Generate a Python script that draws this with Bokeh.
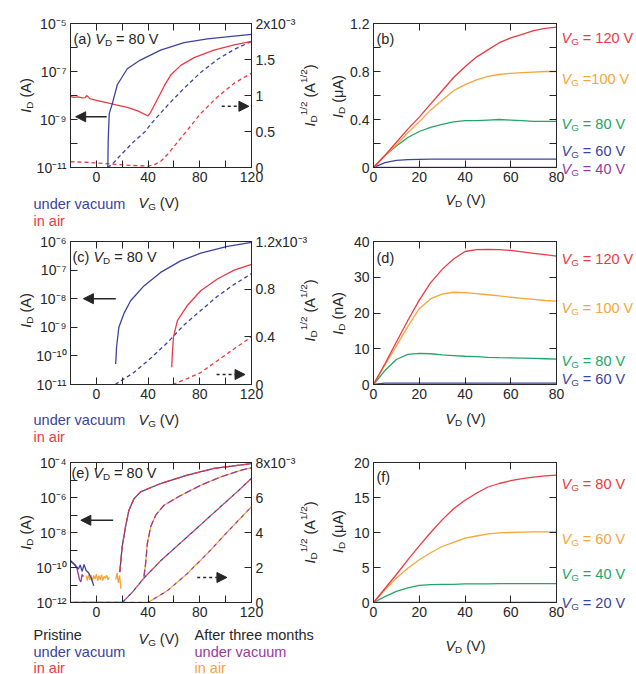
import numpy as np
from bokeh.plotting import figure
from bokeh.models import (Range1d, LinearAxis, LinearScale, FixedTicker, Label, Arrow, NormalHead, GridBox)
from bokeh.layouts import column, row
from bokeh.embed import file_html
from bokeh.resources import INLINE

NAN = float("nan")

BLUE = "#3b43a0"
RED = "#eb3a44"
ORANGE = "#f5a53d"
GREEN = "#23a566"
PURPLE = "#9a3a9e"
INK = "#262626"
FONT = "Liberation Sans"

# ---------------- ticks ----------------
VG_MAJOR = [0, 40, 80, 120]
VG_LABELS = ["0", "40", "80", "120"]
VG_MINOR = [20, 60, 100]
VD_MAJOR = [0, 20, 40, 60, 80]
VD_LABELS = ["0", "20", "40", "60", "80"]

A_LOG_MAJOR = [1e-11, 1e-9, 1e-7, 1e-5]
A_LOG_LABELS = ["10⁻¹¹", "10⁻⁹", "10⁻⁷", "10⁻⁵"]
A_LOG_MINOR = [1e-10, 1e-8, 1e-6]
A_SQ_MAJOR = [0.0, 0.0005, 0.001, 0.0015, 0.002]
A_SQ_LABELS = ["0", "0.5", "1", "1.5", "2x10⁻³"]

C_LOG_MAJOR = [1e-11, 1e-10, 1e-9, 1e-8, 1e-7, 1e-6]
C_LOG_LABELS = ["10⁻¹¹", "10⁻¹⁰", "10⁻⁹", "10⁻⁸", "10⁻⁷", "10⁻⁶"]
C_LOG_MINOR = []
C_SQ_MAJOR = [0.0, 0.0004, 0.0008, 0.0012]
C_SQ_LABELS = ["0", "0.4", "0.8", "1.2x10⁻³"]

E_LOG_MAJOR = [1e-12, 1e-10, 1e-8, 1e-6, 1e-4]
E_LOG_LABELS = ["10⁻¹²", "10⁻¹⁰", "10⁻⁸", "10⁻⁶", "10⁻⁴"]
E_LOG_MINOR = [1e-11, 1e-9, 1e-7, 1e-5]
E_SQ_MAJOR = [0.0, 0.002, 0.004, 0.006, 0.008]
E_SQ_LABELS = ["0", "2", "4", "6", "8x10⁻³"]

B_Y_MAJOR = [0, 0.4, 0.8, 1.2]
B_Y_LABELS = ["0", "0.4", "0.8", "1.2"]
B_Y_MINOR = [0.2, 0.6, 1.0]
D_Y_MAJOR = [0, 10, 20, 30, 40]
D_Y_LABELS = ["0", "10", "20", "30", "40"]
F_Y_MAJOR = [0, 5, 10, 15, 20]
F_Y_LABELS = ["0", "5", "10", "15", "20"]

# ---------------- panel (a) transfer ----------------
A_VG_VAC = [8.9, 9.1, 9.4, 10.0, 12.3, 16.2, 23.9, 34.0, 49.7, 67.8, 85.9, 106.6, 120.0]
A_ID_VAC = [1.0e-11, 1.0e-10, 3.0e-10, 1.8e-9, 4.5e-9, 2.8e-8, 1.3e-7, 3.0e-7, 7.8e-7, 1.6e-6, 2.3e-6, 3.0e-6, 3.5e-6]
A_VG_AIR = [-20, -17, -14, -11, -8.5, -7.5, -5, 0, 8, 16, 24, 32, 40.0, 42, 45, 49, 52.5, 57.5, 65.3, 75.6, 91.0, 106.6, 120]
A_ID_AIR = [9.0e-9, 8.3e-9, 8.7e-9, 7.9e-9, 8.2e-9, 1.0e-8, 7.4e-9, 6.2e-9, 5.0e-9, 4.0e-9, 3.2e-9, 2.3e-9, 1.4e-9,
            2.0e-9, 4.1e-9, 1.07e-8, 2.5e-8, 7.1e-8, 1.8e-7, 3.8e-7, 7.8e-7, 1.3e-6, 1.8e-6]
A_VG_VAC_SQ = [8.5, 12, 18.7, 29, 37.8, 42, 54.9, 67.8, 80.7, 93.6, 106.6, 120]
A_SQ_VAC = [0.0, 0.04e-3, 0.17e-3, 0.36e-3, 0.5e-3, 0.6e-3, 0.86e-3, 1.1e-3, 1.32e-3, 1.5e-3, 1.64e-3, 1.75e-3]
A_VG_AIR_SQ = [-20, -5, 10, 25, 40, 45, 50, 55, 60, 70.4, 80.7, 93.6, 106.6, 120]
A_SQ_AIR = [0.08e-3, 0.07e-3, 0.05e-3, 0.03e-3, 0.02e-3, 0.04e-3, 0.09e-3, 0.18e-3, 0.29e-3, 0.52e-3, 0.75e-3,
            0.98e-3, 1.17e-3, 1.31e-3]

# ---------------- panel (c) transfer ----------------
C_VG_VAC = [14.9, 15.3, 15.6, 17.4, 21.3, 26.5, 36.8, 49.7, 65.2, 80.7, 101.4, 120]
C_ID_VAC = [5.2e-11, 1.0e-10, 2.0e-10, 1.0e-9, 3.0e-9, 8.5e-9, 2.8e-8, 8.3e-8, 2.1e-7, 3.9e-7, 6.8e-7, 9.3e-7]
C_VG_AIR = [58.3, 58.8, 59.6, 62.7, 70.4, 80.7, 93.6, 106.6, 120]
C_ID_AIR = [4.0e-11, 1.2e-10, 4.5e-10, 1.7e-9, 5.8e-9, 1.9e-8, 4.9e-8, 1.0e-7, 1.6e-7]
C_VG_VAC_SQ = [14.5, 29, 42, 54.9, 60, 67.8, 80.7, 93.6, 106.6, 120]
C_SQ_VAC = [0.0, 0.10e-3, 0.22e-3, 0.35e-3, 0.41e-3, 0.5e-3, 0.62e-3, 0.74e-3, 0.84e-3, 0.93e-3]
C_VG_AIR_SQ = [59, 70.4, 80.7, 93.6, 106.6, 120]
C_SQ_AIR = [0.0, 0.05e-3, 0.10e-3, 0.20e-3, 0.30e-3, 0.40e-3]

# ---------------- panel (e) transfer ----------------
E_VG_PRI = [18.1, 19.9, 22.5, 25.1, 29.0, 34.2, 49.7, 70.4, 91.0, 120.0]
E_ID_PRI = [5.4e-11, 1.4e-9, 2.0e-8, 1.8e-7, 8.3e-7, 2.1e-6, 6.3e-6, 1.9e-5, 4.6e-5, 8.7e-5]
E_VG_PRI_VAC_OFF = [-20, -18, -16, -14, -12.5, -11, -9.5, -8, -6, -4, -2]
E_ID_PRI_VAC_OFF = [2.5e-10, 1.8e-10, 1.3e-10, 8.0e-11, 1.4e-10, 6.0e-11, 1.5e-10, 7.0e-11, 5.0e-11, 2.5e-11, 9.0e-12]
E_VG_3M = [36.8, 38.1, 39.4, 42.0, 45.9, 52.3, 65.2, 80.7, 96.2, 111.7, 120.0]
E_ID_3M = [3.0e-11, 1.7e-10, 2.3e-9, 2.1e-8, 9.8e-8, 3.6e-7, 1.3e-6, 5.0e-6, 1.5e-5, 3.6e-5, 5.1e-5]
E_VG_3M_VAC_OFF = [-20, -17, -15, -13, -12, -11, -10]
E_ID_3M_VAC_OFF = [2.2e-10, 1.5e-10, 9.0e-11, 2.0e-11, 1.5e-11, 4.0e-11, 3.0e-11]
E_VG_3M_AIR_OFF = [-8, -7, -6, -5, -4, -3, -2, -1, 0, 1, 2, 3, 4, 5, 6, 7, 8, 9, 10,
                   NAN, 15, 16, 17, 18, 19]
E_ID_3M_AIR_OFF = [3.5e-11, 1.8e-11, 4.0e-11, 2.0e-11, 3.8e-11, 1.6e-11, 3.5e-11, 2.2e-11, 4.2e-11, 1.7e-11,
                   3.4e-11, 2.0e-11, 3.9e-11, 1.8e-11, 3.1e-11, 2.4e-11, 3.6e-11, 2.0e-11, 2.8e-11,
                   NAN, 2.0e-11, 5.0e-11, 1.3e-11, 3.5e-11, 6.0e-12]
E_VG_PRI_SQ = [-20, 20, 28, 36.8, 50, 65, 80, 95, 110, 120]
E_SQ_PRI = [0.0, 0.0, 0.6e-3, 1.4e-3, 2.4e-3, 3.4e-3, 4.4e-3, 5.4e-3, 6.4e-3, 7.1e-3]
E_VG_3M_SQ = [-20, 40, 55.4, 70.4, 85.9, 101.4, 120]
E_SQ_3M = [0.0, 0.0, 0.7e-3, 1.66e-3, 2.8e-3, 4.04e-3, 5.47e-3]

# ---------------- output curves ----------------
VD = [0, 5, 10, 15, 20, 25, 30, 35, 40, 45, 50, 55, 60, 65, 70, 75, 80]
B_ID_120 = [0, 0.10, 0.21, 0.32, 0.42, 0.53, 0.64, 0.75, 0.84, 0.92, 0.98, 1.04, 1.08, 1.11, 1.14, 1.16, 1.17]
B_ID_100 = [0, 0.10, 0.19, 0.29, 0.38, 0.48, 0.56, 0.64, 0.69, 0.73, 0.76, 0.775, 0.785, 0.79, 0.795, 0.80, 0.80]
B_ID_80 = [0, 0.10, 0.18, 0.25, 0.30, 0.335, 0.36, 0.38, 0.39, 0.39, 0.395, 0.40, 0.395, 0.39, 0.385, 0.385, 0.385]
B_ID_60 = [0, 0.04, 0.06, 0.065, 0.068, 0.07, 0.07, 0.07, 0.07, 0.07, 0.07, 0.07, 0.07, 0.07, 0.07, 0.07, 0.07]
B_ID_40 = [0.0] * 17
B_TAGS = [" = 120 V", " =100 V", " = 80 V", " = 60 V", " = 40 V"]

D_ID_120 = [0, 5.8, 11.9, 17.9, 23.6, 28.5, 32.2, 35.1, 37.2, 37.7, 37.8, 37.7, 37.5, 37.1, 36.7, 36.3, 35.9]
D_ID_100 = [0, 5.5, 10.8, 16.2, 21.2, 24.0, 25.3, 25.8, 25.7, 25.4, 25.1, 24.8, 24.4, 24.1, 23.8, 23.5, 23.3]
D_ID_80 = [0, 3.9, 7.0, 8.4, 8.7, 8.6, 8.3, 8.1, 7.9, 7.8, 7.6, 7.5, 7.45, 7.4, 7.3, 7.2, 7.1]
D_ID_60 = [0, 0.4, 0.4, 0.4, 0.4, 0.4, 0.4, 0.4, 0.4, 0.4, 0.4, 0.4, 0.4, 0.4, 0.4, 0.4, 0.4]
D_TAGS = [" = 120 V", " = 100 V", " = 80 V", " = 60 V"]

F_ID_80 = [0, 2.0, 4.0, 6.1, 8.1, 10.0, 11.8, 13.4, 14.6, 15.6, 16.5, 17.0, 17.4, 17.7, 17.9, 18.1, 18.2]
F_ID_60 = [0, 1.8, 3.5, 4.9, 6.1, 7.1, 8.0, 8.6, 9.2, 9.5, 9.8, 9.95, 10.0, 10.05, 10.1, 10.1, 10.1]
F_ID_40 = [0, 0.85, 1.6, 2.1, 2.45, 2.55, 2.6, 2.6, 2.65, 2.65, 2.65, 2.7, 2.7, 2.7, 2.7, 2.7, 2.7]
F_ID_20 = [0.0] * 17
F_TAGS = [" = 80 V", " = 60 V", " = 40 V", " = 20 V"]

# ---------------- helpers ----------------
W_PAGE, H_PAGE = 636, 674
CW = {' ': 0.278, '(': 0.333, ')': 0.333, '=': 0.584, '/': 0.278, '.': 0.278, '-': 0.333, 'μ': 0.576,
      'A': 0.667, 'D': 0.722, 'G': 0.778, 'I': 0.278, 'V': 0.667, 'P': 0.667,
      'a': 0.556, 'b': 0.556, 'c': 0.5, 'd': 0.556, 'e': 0.556, 'f': 0.278, 'h': 0.556, 'i': 0.222,
      'm': 0.833, 'n': 0.556, 'o': 0.556, 'r': 0.333, 's': 0.5, 't': 0.278, 'u': 0.556, 'v': 0.5, 'x': 0.5}


def tw(s, fs):
    return sum(CW.get(ch, 0.556) for ch in s) * fs


def arr(v):
    return np.array(v, dtype=float)


# overlay figure holding all texts outside the plot frames (page coordinates)
ov = figure(width=W_PAGE, height=H_PAGE, min_border=0, x_range=Range1d(0, W_PAGE), y_range=Range1d(0, H_PAGE),
            x_axis_location=None, y_axis_location=None, output_backend="svg", toolbar_location=None,
            tools="", title=None)
ov.grid.visible = False
ov.outline_line_color = None
ov.background_fill_color = None
ov.border_fill_color = None


def rich(px, py, parts, color=INK, size=14.5, angle=0.0, center=False):
    items = []
    pos = 0.0
    for txt, st in parts:
        fs = size * 0.68 if st in ("sub", "sup") else size
        lead = len(txt) - len(txt.lstrip(" "))
        core = txt.strip(" ")
        start = pos + tw(" " * lead, fs)
        pos = pos + tw(txt, fs)
        if st == "sub":
            shift = -0.28 * size
        elif st == "sup":
            shift = 0.40 * size
        else:
            shift = 0.0
        items.append((core, st, fs, start, shift))
    off = -pos / 2 if center else 0.0
    bx = px
    by = H_PAGE - py
    for txt, st, fs, start, shift in items:
        a = start + off
        if angle == 0.0:
            x, y = bx + a, by + shift
        else:
            x, y = bx - shift, by + a
        ov.add_layout(Label(x=x, y=y, x_units="screen", y_units="screen", text=txt,
                            text_font=FONT, text_font_size=f"{fs:.1f}px",
                            text_font_style="italic" if st == "i" else "normal",
                            text_color=color, text_align="left", text_baseline="alphabetic",
                            angle=angle))


def style_axis(ax, major, labels, minor):
    ax.ticker = FixedTicker(ticks=major, minor_ticks=minor)
    ax.major_tick_in = 7
    ax.major_tick_out = 0
    ax.minor_tick_in = 7
    ax.minor_tick_out = 0
    ax.minor_tick_line_color = INK
    ax.major_tick_line_color = INK
    ax.axis_line_color = INK
    if labels:
        ax.major_label_overrides = dict(zip(major, labels))
    ax.major_label_text_font = FONT
    ax.major_label_text_font_size = "14px"
    ax.major_label_text_color = INK
    ax.major_label_standoff = 4


def base_fig(geo, x_range, y_range, log=False):
    p = figure(width=geo["w"], height=geo["h"], min_border_left=geo["bl"], min_border_right=geo["br"],
               min_border_top=geo["bt"], min_border_bottom=geo["bb"], x_range=x_range, y_range=y_range,
               y_axis_type="log" if log else "linear", output_backend="svg", toolbar_location=None,
               tools="", title=None)
    p.grid.visible = False
    p.outline_line_color = INK
    return p


GEO = {
    "a": dict(w=318, h=226, bl=70, br=67, bt=23, bb=59),
    "b": dict(w=318, h=226, bl=55, br=80, bt=23, bb=59),
    "c": dict(w=318, h=218, bl=70, br=67, bt=15, bb=60),
    "d": dict(w=318, h=218, bl=55, br=80, bt=15, bb=60),
    "e": dict(w=318, h=230, bl=70, br=67, bt=18, bb=72),
    "f": dict(w=318, h=230, bl=55, br=80, bt=15, bb=70),
}

ID_A = [("I", "i"), ("D", "sub"), (" (A)", "n")]
SQRT_LABEL = [("I", "i"), ("D", "sub"), ("1/2", "sup"), (" (A", "n"), ("1/2", "sup"), (")", "n")]
VG_LABEL = [("V", "i"), ("G", "sub"), (" (V)", "n")]
VD_LABEL = [("V", "i"), ("D", "sub"), (" (V)", "n")]


def transfer_fig(geo, ylo, yhi, log_major, log_labels, log_minor, rmax, sq_major, sq_labels):
    p = base_fig(geo, Range1d(-20, 120), Range1d(ylo, yhi), log=True)
    p.extra_y_ranges = {"r": Range1d(0, rmax)}
    p.extra_y_scales = {"r": LinearScale()}
    style_axis(p.xaxis[0], VG_MAJOR, VG_LABELS, VG_MINOR)
    style_axis(p.yaxis[0], log_major, log_labels, log_minor)
    top = LinearAxis()
    style_axis(top, [], None, VG_MAJOR + VG_MINOR)
    p.add_layout(top, "above")
    right = LinearAxis(y_range_name="r")
    style_axis(right, sq_major, sq_labels, [])
    p.add_layout(right, "right")
    return p


def add_arrows(p, solid, dashed):
    (x0, x1, y), (dx0, dx1, dy) = solid, dashed
    p.add_layout(Arrow(end=NormalHead(size=10, fill_color=INK, line_color=INK, line_width=1),
                       x_start=x0, y_start=y, x_end=x1, y_end=y, line_color=INK, line_width=1.5))
    p.add_layout(Arrow(end=NormalHead(size=10, fill_color=INK, line_color=INK, line_width=1),
                       x_start=dx0, y_start=dy, x_end=dx1, y_end=dy, line_color=INK, line_width=1.5,
                       line_dash="3 3", y_range_name="r"))


LW = 1.3

# ---- (a)
pa = transfer_fig(GEO["a"], 1e-11, 1e-5, A_LOG_MAJOR, A_LOG_LABELS, A_LOG_MINOR, 2e-3, A_SQ_MAJOR, A_SQ_LABELS)
pa.line(arr(A_VG_AIR_SQ), arr(A_SQ_AIR), line_color=RED, line_width=LW, line_dash="4 3", y_range_name="r")
pa.line(arr(A_VG_VAC_SQ), arr(A_SQ_VAC), line_color=BLUE, line_width=LW, line_dash="4 3", y_range_name="r")
pa.line(arr(A_VG_AIR), arr(A_ID_AIR), line_color=RED, line_width=LW)
pa.line(arr(A_VG_VAC), arr(A_ID_VAC), line_color=BLUE, line_width=LW)
add_arrows(pa, (8, -16, 1.3e-9), (97, 118, 0.85e-3))

# ---- (c)
pc = transfer_fig(GEO["c"], 1e-11, 1e-6, C_LOG_MAJOR, C_LOG_LABELS, C_LOG_MINOR, 1.2e-3, C_SQ_MAJOR, C_SQ_LABELS)
pc.line(arr(C_VG_AIR_SQ), arr(C_SQ_AIR), line_color=RED, line_width=LW, line_dash="4 3", y_range_name="r")
pc.line(arr(C_VG_VAC_SQ), arr(C_SQ_VAC), line_color=BLUE, line_width=LW, line_dash="4 3", y_range_name="r")
pc.line(arr(C_VG_AIR), arr(C_ID_AIR), line_color=RED, line_width=LW)
pc.line(arr(C_VG_VAC), arr(C_ID_VAC), line_color=BLUE, line_width=LW)
add_arrows(pc, (15, -10, 1e-8), (93, 115, 0.084e-3))

# ---- (e)
pe = transfer_fig(GEO["e"], 1e-12, 1e-4, E_LOG_MAJOR, E_LOG_LABELS, E_LOG_MINOR, 8e-3, E_SQ_MAJOR, E_SQ_LABELS)
pe.line(arr(E_VG_3M_SQ), arr(E_SQ_3M), line_color=ORANGE, line_width=LW, line_dash="4 4", y_range_name="r")
pe.line(arr(E_VG_3M_SQ), arr(E_SQ_3M), line_color=PURPLE, line_width=LW, line_dash="4 4",
        line_dash_offset=4, y_range_name="r")
pe.line(arr(E_VG_PRI_SQ), arr(E_SQ_PRI), line_color=RED, line_width=LW, line_dash="4 4", y_range_name="r")
pe.line(arr(E_VG_PRI_SQ), arr(E_SQ_PRI), line_color=BLUE, line_width=LW, line_dash="4 4",
        line_dash_offset=4, y_range_name="r")
pe.line(arr(E_VG_3M_AIR_OFF), arr(E_ID_3M_AIR_OFF), line_color=ORANGE, line_width=LW)
pe.line(arr(E_VG_3M_VAC_OFF), arr(E_ID_3M_VAC_OFF), line_color=PURPLE, line_width=LW)
pe.line(arr(E_VG_PRI_VAC_OFF), arr(E_ID_PRI_VAC_OFF), line_color=BLUE, line_width=LW)
pe.line(arr(E_VG_3M), arr(E_ID_3M), line_color=ORANGE, line_width=LW)
pe.line(arr(E_VG_3M), arr(E_ID_3M), line_color=PURPLE, line_width=LW, line_dash="7 3")
pe.line(arr(E_VG_PRI), arr(E_ID_PRI), line_color=BLUE, line_width=LW)
pe.line(arr(E_VG_PRI), arr(E_ID_PRI), line_color=RED, line_width=LW, line_dash="7 3")
add_arrows(pe, (13, -12, 5e-8), (78, 101, 1.43e-3))


# ---- output panels
def output_fig(geo, ymax, y_major, y_labels, y_minor):
    p = base_fig(geo, Range1d(0, 80), Range1d(0, ymax))
    style_axis(p.xaxis[0], VD_MAJOR, VD_LABELS, [])
    style_axis(p.yaxis[0], y_major, y_labels, y_minor)
    top = LinearAxis()
    style_axis(top, [], None, VD_MAJOR)
    p.add_layout(top, "above")
    right = LinearAxis()
    style_axis(right, [], None, y_major + y_minor)
    p.add_layout(right, "right")
    return p


pb = output_fig(GEO["b"], 1.2, B_Y_MAJOR, B_Y_LABELS, B_Y_MINOR)
for ys, c in [(B_ID_40, PURPLE), (B_ID_60, BLUE), (B_ID_80, GREEN), (B_ID_100, ORANGE), (B_ID_120, RED)]:
    pb.line(arr(VD), arr(ys), line_color=c, line_width=LW)

pd_ = output_fig(GEO["d"], 40, D_Y_MAJOR, D_Y_LABELS, [])
for ys, c in [(D_ID_60, BLUE), (D_ID_80, GREEN), (D_ID_100, ORANGE), (D_ID_120, RED)]:
    pd_.line(arr(VD), arr(ys), line_color=c, line_width=LW)

pf = output_fig(GEO["f"], 20, F_Y_MAJOR, F_Y_LABELS, [])
for ys, c in [(F_ID_20, BLUE), (F_ID_40, GREEN), (F_ID_60, ORANGE), (F_ID_80, RED)]:
    pf.line(arr(VD), arr(ys), line_color=c, line_width=LW)

# ---------------- texts (page coordinates) ----------------
for letter, (x, y) in zip("ace", [(73, 38), (72, 256), (71, 472)]):
    rich(x, y, [(f"({letter}) ", "n"), ("V", "i"), ("D", "sub"), (" = 80 V", "n")])
for letter, (x, y) in zip("bdf", [(376, 38), (376, 257), (376, 476)]):
    rich(x, y, [(f"({letter})", "n")])

for cy in (95, 310, 532):
    rich(25, cy, ID_A, angle=np.pi / 2, center=True)
    rich(309, cy, SQRT_LABEL, angle=np.pi / 2, center=True)
for cy, unit in ((96, "μA"), (313, "nA"), (531, "μA")):
    rich(337, cy, [("I", "i"), ("D", "sub"), (f" ({unit})", "n")], angle=np.pi / 2, center=True)

for y in (202, 419, 638):
    rich(138, y, VG_LABEL)
for y in (199, 418, 645):
    rich(465, y, VD_LABEL, center=True)

rich(33, 203, [("under vacuum", "n")], color=BLUE)
rich(33, 220, [("in air", "n")], color=RED)
rich(33, 419, [("under vacuum", "n")], color=BLUE)
rich(33, 436, [("in air", "n")], color=RED)
rich(33, 634, [("Pristine", "n")])
rich(33, 651, [("under vacuum", "n")], color=BLUE)
rich(33, 667, [("in air", "n")], color=RED)
rich(194, 634, [("After three months", "n")])
rich(194, 651, [("under vacuum", "n")], color=PURPLE)
rich(194, 667, [("in air", "n")], color=ORANGE)


def tags(ys, texts, colors):
    for py, t, c in zip(ys, texts, colors):
        rich(561, py, [("V", "i"), ("G", "sub"), (t, "n")], color=c)


tags([37, 78, 123, 150, 168], B_TAGS, [RED, ORANGE, GREEN, BLUE, PURPLE])
tags([258, 307, 360, 378], D_TAGS, [RED, ORANGE, GREEN, BLUE])
tags([483, 538, 573, 602], F_TAGS, [RED, ORANGE, GREEN, BLUE])

panels = column(row(pa, pb), row(pc, pd_), row(pe, pf))
layout = GridBox(children=[(panels, 0, 0), (ov, 0, 0)])
open("out.html", "w").write(file_html(layout, INLINE))
